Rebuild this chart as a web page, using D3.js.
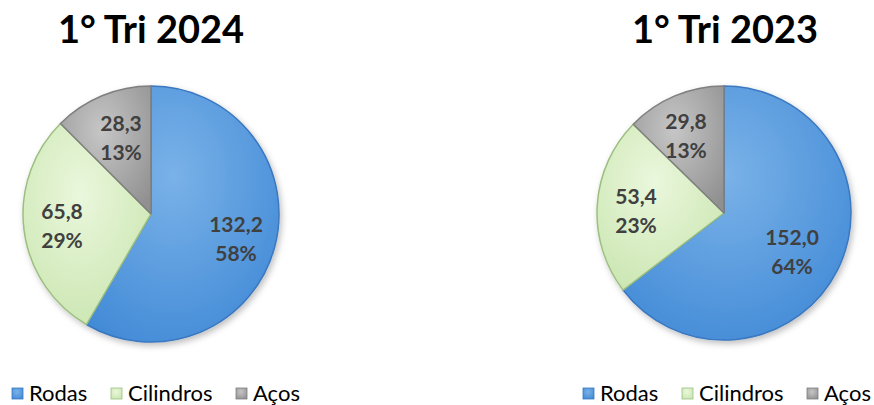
<!DOCTYPE html>
<html><head><meta charset="utf-8">
<script src="https://cdn.jsdelivr.net/npm/d3@7"></script>
<style>body{margin:0;background:#fff}svg{display:block}</style>
</head><body>
<svg id="c" width="874" height="405"></svg>
<script>
const categories = ["Rodas", "Cilindros", "Aços"];
const titles = ["1° Tri 2024", "1° Tri 2023"];
const values2024 = [132.2, 65.8, 28.3];
const values2023 = [152.0, 53.4, 29.8];
const pct2024 = ["58%", "29%", "13%"];
const pct2023 = ["64%", "23%", "13%"];

const svg = d3.select("#c");
const font = "Lato, 'Open Sans', sans-serif";
const fills = [["#7ab2e8", "#4089d6"], ["#eaf7dc", "#c9e5af"], ["#c6c6c6", "#909090"]];
const strokes = ["#3a78c0", "#9cbf80", "#7f7f7f"];
const defs = svg.append("defs");
fills.forEach((f, i) => {
  const g = defs.append("radialGradient").attr("id", "g" + i)
    .attr("cx", "45%").attr("cy", "35%").attr("r", "75%");
  g.append("stop").attr("offset", "0%").attr("stop-color", f[0]);
  g.append("stop").attr("offset", "100%").attr("stop-color", f[1]);
});
const sh = defs.append("filter").attr("id", "sh").attr("x", "-20%").attr("y", "-20%").attr("width", "140%").attr("height", "140%");
sh.append("feDropShadow").attr("dx", 2).attr("dy", 3).attr("stdDeviation", 3).attr("flood-color", "#000").attr("flood-opacity", 0.25);

const fmt = v => d3.format(".1f")(v).replace(".", ",");

const charts = [
  {title: titles[0], values: values2024, pcts: pct2024, cx: 151, cy: 214, r: 128, tx: 151,
   labels: [[236, 239], [62, 226], [121, 138]], legendX: 12},
  {title: titles[1], values: values2023, pcts: pct2023, cx: 724, cy: 213, r: 127, tx: 725,
   labels: [[792, 252], [636, 211], [686, 136]], legendX: 583}
];

const pie = d3.pie().sort(null).value(d => d);
charts.forEach(c => {
  svg.append("text").attr("x", c.tx).attr("y", 43).attr("text-anchor", "middle")
    .attr("font-family", font).attr("font-weight", 700).attr("font-size", 38)
    .attr("fill", "#000").text(c.title);
  const g = svg.append("g").attr("transform", `translate(${c.cx},${c.cy})`);
  const arc = d3.arc().innerRadius(0).outerRadius(c.r);
  const arcs = pie(c.values);
  g.append("g").attr("filter", "url(#sh)").selectAll("path").data(arcs).join("path")
    .attr("d", arc).attr("fill", (d, i) => `url(#g${i})`)
    .attr("stroke", (d, i) => strokes[i]).attr("stroke-width", 1.5).attr("stroke-linejoin", "round");
  arcs.forEach((d, i) => {
    const [lx, ly] = c.labels[i];
    const t = svg.append("text").attr("text-anchor", "middle")
      .attr("font-family", font).attr("font-weight", 700).attr("font-size", 21).attr("fill", "#404040");
    t.append("tspan").attr("x", lx).attr("y", ly - 7).text(fmt(c.values[i]));
    t.append("tspan").attr("x", lx).attr("y", ly + 22).text(c.pcts[i]);
  });
  // legend
  const offs = [0, 99, 224];
  categories.forEach((cat, i) => {
    const x = c.legendX + offs[i];
    svg.append("rect").attr("x", x).attr("y", 388).attr("width", 11).attr("height", 11)
      .attr("fill", `url(#g${i})`).attr("stroke", strokes[i]).attr("stroke-width", 0.8);
    svg.append("text").attr("x", x + 17).attr("y", 401).attr("font-family", font)
      .attr("font-size", 22).attr("fill", "#000").text(cat);
  });
});
</script>
</body></html>
